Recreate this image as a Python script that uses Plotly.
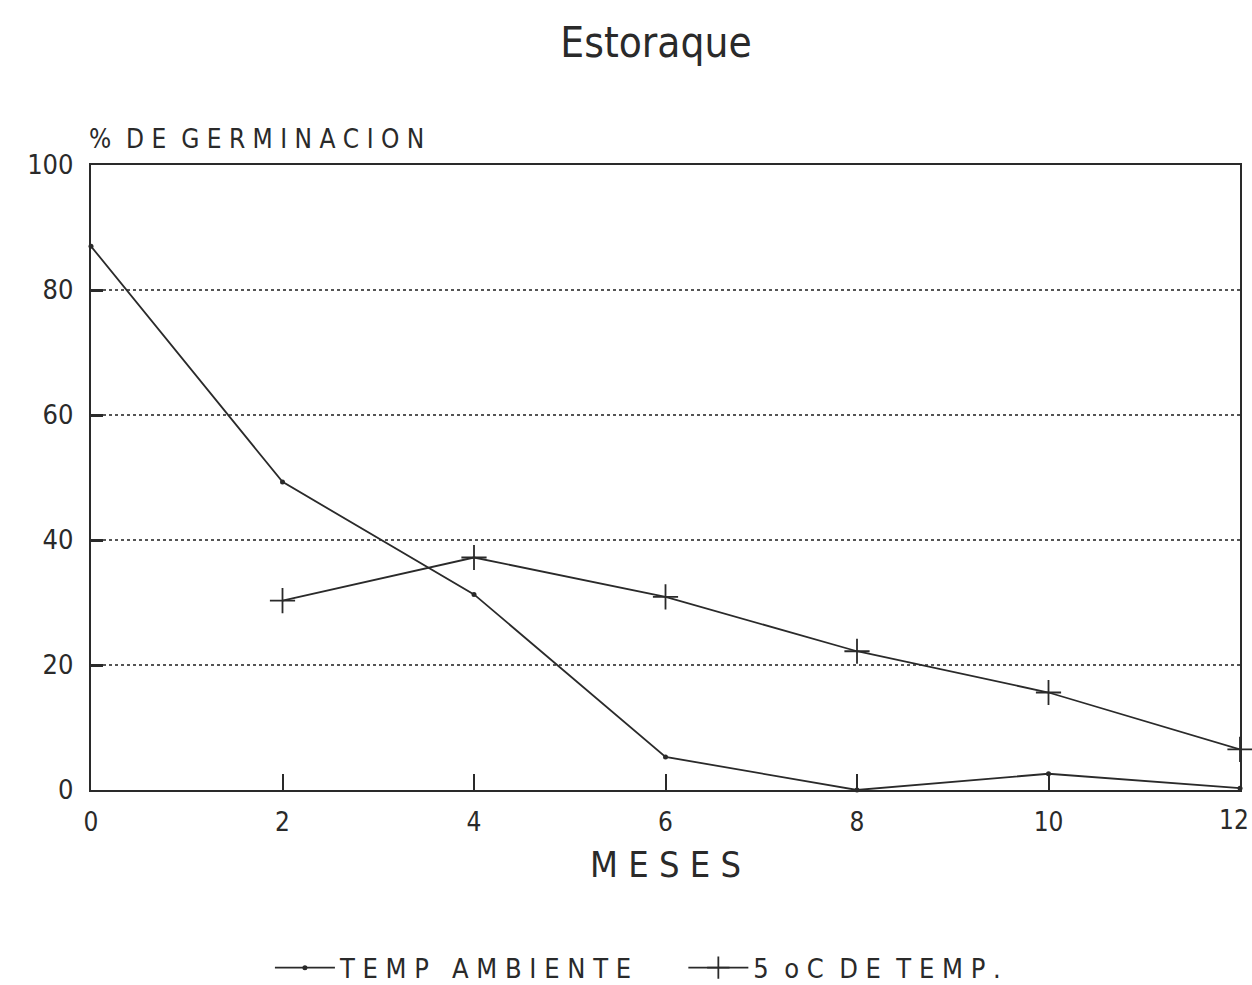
import plotly.graph_objects as go

months = [0, 2, 4, 6, 8, 10, 12]
temp_ambiente = [87, 49.3, 31.3, 5.3, 0, 2.6, 0.3]
months_frio = [2, 4, 6, 8, 10, 12]
frio_5c = [30.3, 37.2, 30.9, 22.2, 15.6, 6.5]
x_ticks = [0, 2, 4, 6, 8, 10, 12]
y_ticks = [0, 20, 40, 60, 80, 100]

FONT = "DejaVu Sans Condensed, DejaVu Sans, sans-serif"
INK = "#2a2a2a"
NB = "\u00a0"

fig = go.Figure()
fig.add_trace(go.Scatter(
    x=months, y=temp_ambiente, mode="lines+markers",
    name="T E M P   A M B I E N T E" + NB * 6,
    line=dict(color=INK, width=1.8),
    marker=dict(symbol="circle", size=5, color=INK),
    cliponaxis=False,
))
fig.add_trace(go.Scatter(
    x=months_frio, y=frio_5c, mode="lines+markers", name="5  o C  D E  T E M P .",
    line=dict(color=INK, width=1.8),
    marker=dict(symbol="cross-thin", size=18, line=dict(color=INK, width=1.8)),
    cliponaxis=False,
))

# last tick label drawn as annotation so it stays inside the page edge
tick_text = [str(v) for v in x_ticks[:-1]] + [""]

fig.update_layout(
    width=1252, height=985,
    paper_bgcolor="white", plot_bgcolor="white",
    margin=dict(l=91, r=12, t=165, b=195, autoexpand=False),
    font=dict(family=FONT, color=INK, size=24),
    title=dict(text="Estoraque", x=0.524, xanchor="center", y=0.957, yanchor="middle",
               font=dict(size=42, family=FONT, color=INK)),
    showlegend=True,
    legend=dict(orientation="h", x=0.476, xanchor="center", y=-0.285, yanchor="middle",
                font=dict(size=27, family=FONT, color=INK), itemwidth=60,
                bgcolor="rgba(0,0,0,0)"),
    xaxis=dict(
        range=[0, 12], tickvals=x_ticks, ticktext=tick_text,
        ticks="inside", ticklen=16, tickwidth=1.8, tickcolor=INK,
        showline=True, linecolor=INK, linewidth=2.2, mirror=True,
        showgrid=False, zeroline=False, automargin=False,
        ticklabelstandoff=8, ticklabeloverflow="allow",
        tickfont=dict(size=26, family=FONT, color=INK),
        title=dict(text="M E S E S", font=dict(size=36, family=FONT, color=INK), standoff=16),
    ),
    yaxis=dict(
        range=[0, 100], tickvals=y_ticks, ticktext=[str(v) for v in y_ticks],
        ticks="inside", ticklen=12, tickwidth=2.5, tickcolor=INK,
        showline=True, linecolor=INK, linewidth=2.2, mirror=True,
        showgrid=True, gridcolor="#555555", griddash="dot", gridwidth=1.6,
        zeroline=False, automargin=False,
        ticklabelstandoff=10, ticklabeloverflow="allow",
        tickfont=dict(size=27, family=FONT, color=INK),
    ),
)

fig.add_annotation(
    text=str(x_ticks[-1]), x=x_ticks[-1], xref="x", y=0, yref="paper",
    xanchor="right", yanchor="top", xshift=11, yshift=-13, showarrow=False,
    font=dict(size=26, family=FONT, color=INK),
)

fig.add_annotation(
    text="%  D E  G E R M I N A C I O N", xref="paper", yref="paper",
    x=0, y=1.0, xanchor="left", yanchor="bottom", yshift=9, xshift=-4, showarrow=False,
    font=dict(size=26, family=FONT, color=INK),
)

fig.write_html("out.html", config={"displayModeBar": False},
               post_script="document.body.style.margin='0';")
